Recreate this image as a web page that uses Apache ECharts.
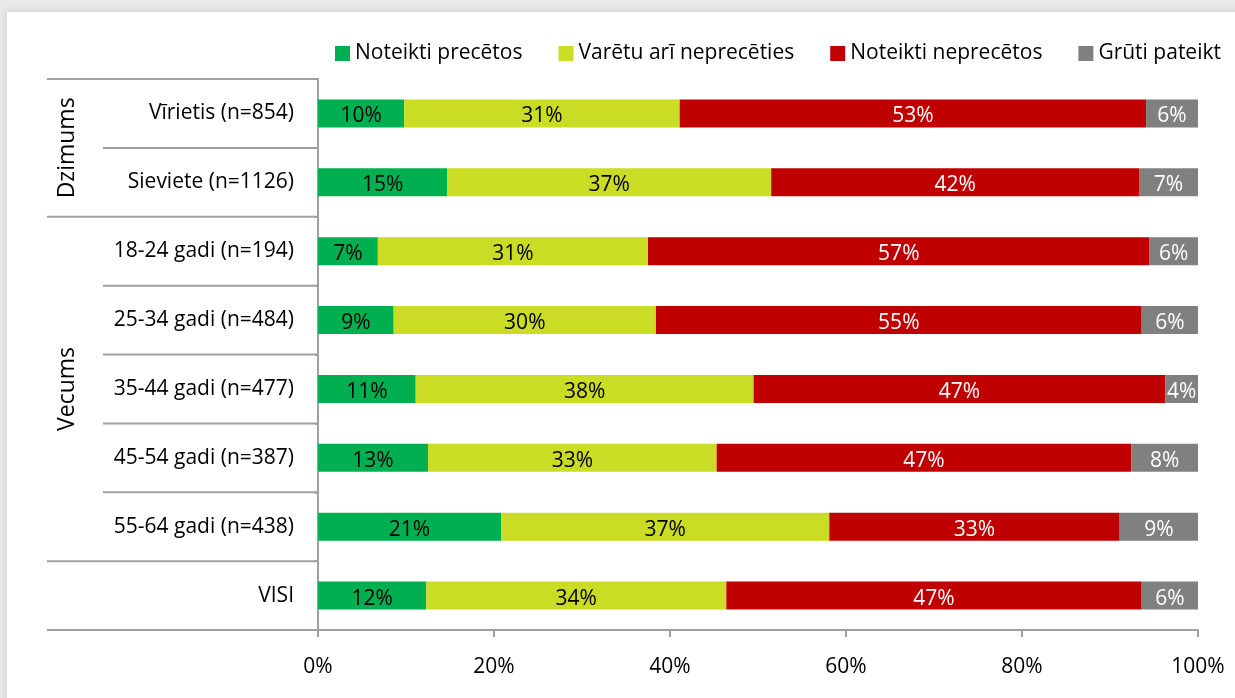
<!DOCTYPE html>
<html>
<head>
<meta charset="utf-8">
<script src="https://cdn.jsdelivr.net/npm/echarts@6/dist/echarts.min.js"></script>
<style>
  html, body { margin: 0; padding: 0; background: #e9e9e9; }
  #panel { position: absolute; left: 7px; top: 12px; width: 1240px; height: 700px; background: #fff; box-shadow: 0 0 8px rgba(0,0,0,0.15); }
  #chart { position: absolute; left: 0; top: 0; width: 1235px; height: 698px; }
</style>
</head>
<body>
<div id="panel"></div>
<div id="chart"></div>
<script>
var categories = ["Vīrietis (n=854)", "Sieviete (n=1126)", "18-24 gadi (n=194)", "25-34 gadi (n=484)",
  "35-44 gadi (n=477)", "45-54 gadi (n=387)", "55-64 gadi (n=438)", "VISI"];
var seriesNames = ["Noteikti precētos", "Varētu arī neprecēties", "Noteikti neprecētos", "Grūti pateikt"];
var precetos = [9.8, 14.7, 6.8, 8.6, 11.1, 12.5, 20.8, 12.3];
var varetu = [31.3, 36.8, 30.7, 29.8, 38.4, 32.8, 37.3, 34.1];
var neprecetos = [53.0, 41.8, 57.0, 55.2, 46.8, 47.1, 33.0, 47.2];
var grutiPateikt = [5.9, 6.7, 5.5, 6.4, 3.7, 7.6, 8.9, 6.4];
var xTicks = [0, 20, 40, 60, 80, 100];
var groups = [
  { name: "Dzimums", from: 0, to: 1 },
  { name: "Vecums", from: 2, to: 6 },
  { name: "", from: 7, to: 7 }
];

var colors = ["#00b050", "#cadc23", "#c00000", "#808080"];
var labelColors = ["#000", "#000", "#fff", "#fff"];
var font = "'Open Sans', sans-serif";
var allData = [precetos, varetu, neprecetos, grutiPateikt];

var myChart = echarts.init(document.getElementById("chart"));
var series = seriesNames.map(function (name, i) {
  return {
    name: name,
    type: "bar",
    stack: "total",
    barWidth: 28,
    data: allData[i],
    itemStyle: { color: colors[i] },
    label: {
      show: true,
      position: "inside",
      color: labelColors[i],
      fontFamily: font,
      fontSize: 21,
      offset: [0, 3],
      formatter: function (p) { return Math.round(p.value) + "%"; }
    }
  };
});

var option = {
  animation: false,
  textStyle: { fontFamily: font },
  legend: {
    data: seriesNames,
    top: 38,
    left: 330,
    itemWidth: 15,
    itemHeight: 15,
    itemGap: 36,
    icon: "rect",
    textStyle: { fontSize: 21, color: "#000", fontFamily: font }
  },
  grid: { left: 318, right: 37, top: 79, bottom: 68 },
  xAxis: {
    type: "value",
    min: xTicks[0],
    max: xTicks[xTicks.length - 1],
    interval: 20,
    axisLine: { show: true, lineStyle: { color: "#a0a0a0", width: 2 } },
    axisTick: { show: true, length: 7, lineStyle: { color: "#a0a0a0", width: 2 } },
    splitLine: { show: false },
    axisLabel: { formatter: "{value}%", fontSize: 21, color: "#000", margin: 27, fontFamily: font }
  },
  yAxis: {
    type: "category",
    inverse: true,
    data: categories,
    axisLine: { show: true, lineStyle: { color: "#a0a0a0", width: 2 } },
    axisTick: { show: true, length: 3, lineStyle: { color: "#a0a0a0", width: 2 } },
    axisLabel: { fontSize: 21, color: "#000", margin: 24, fontFamily: font }
  },
  series: series
};
myChart.setOption(option);

// separator lines and group labels
function drawGroups() {
  var graphics = [];
  var lineStyle = { stroke: "#a0a0a0", lineWidth: 2 };
  var axisX = myChart.convertToPixel({ xAxisIndex: 0 }, 0);
  var y0 = myChart.convertToPixel({ yAxisIndex: 0 }, 0);
  var y1 = myChart.convertToPixel({ yAxisIndex: 0 }, 1);
  var band = y1 - y0;
  function edge(i) { return y0 + (i - 0.5) * band; }
  graphics.push({ type: "line", shape: { x1: 47, y1: edge(0), x2: axisX, y2: edge(0) }, style: lineStyle });
  groups.forEach(function (g) {
    for (var i = g.from; i < g.to; i++) {
      graphics.push({ type: "line", shape: { x1: 103, y1: edge(i + 1), x2: axisX, y2: edge(i + 1) }, style: lineStyle });
    }
    graphics.push({ type: "line", shape: { x1: 47, y1: edge(g.to + 1), x2: axisX, y2: edge(g.to + 1) }, style: lineStyle });
    if (g.name) {
      graphics.push({
        type: "text",
        x: 67,
        y: (edge(g.from) + edge(g.to + 1)) / 2,
        rotation: Math.PI / 2,
        style: { text: g.name, fontSize: 23, fontFamily: font, fill: "#000", align: "center", verticalAlign: "middle" }
      });
    }
  });
  myChart.setOption({ graphic: graphics });
}
drawGroups();
</script>
</body>
</html>
